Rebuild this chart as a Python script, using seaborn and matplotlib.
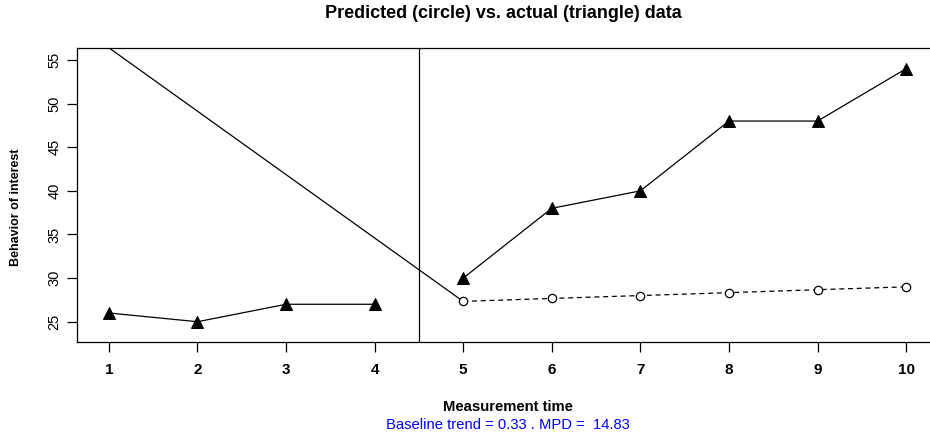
import matplotlib
matplotlib.use("Agg")
import matplotlib.pyplot as plt
import seaborn as sns
import pandas as pd

# ---- data ----
time_a = [1, 2, 3, 4]
actual_a = [26, 25, 27, 27]
time_b = [5, 6, 7, 8, 9, 10]
actual_b = [30, 38, 40, 48, 48, 54]
predicted_b = [27.33, 27.67, 28.0, 28.33, 28.67, 29.0]
trend_x = [1, 5]
trend_y = [56.4, 27.33]
phase_change = 4.5
x_ticks = [1, 2, 3, 4, 5, 6, 7, 8, 9, 10]
y_ticks = [25, 30, 35, 40, 45, 50, 55]
title = "Predicted (circle) vs. actual (triangle) data"
xlabel = "Measurement time"
ylabel = "Behavior of interest"
note = "Baseline trend = 0.33 . MPD =  14.83"

sns.set_style("ticks")
plt.rcParams['font.family'] = ['Liberation Sans', 'DejaVu Sans']
plt.rcParams['text.color'] = 'black'
plt.rcParams['xtick.color'] = 'black'
plt.rcParams['ytick.color'] = 'black'
plt.rcParams['axes.labelcolor'] = 'black'

fig = plt.figure(figsize=(9.3, 4.36), dpi=100)
W, H = 930, 436
left, right, top, bottom = 77, 938, 48.3, 341.7
ax = fig.add_axes([left / W, 1 - bottom / H, (right - left) / W, (bottom - top) / H])

dfa = pd.DataFrame({"t": time_a, "y": actual_a})
dfb = pd.DataFrame({"t": time_b, "y": actual_b})
dfp = pd.DataFrame({"t": time_b, "y": predicted_b})
dft = pd.DataFrame({"t": trend_x, "y": trend_y})

sns.lineplot(data=dft, x="t", y="y", ax=ax, color="black", lw=0.9)
sns.lineplot(data=dfp, x="t", y="y", ax=ax, color="black", lw=0.9,
             linestyle=(0, (4, 3)), marker="o", markersize=6,
             markerfacecolor="white", markeredgecolor="black", markeredgewidth=0.9)
for d in (dfa, dfb):
    sns.lineplot(data=d, x="t", y="y", ax=ax, color="black", lw=0.9,
                 marker="^", markersize=9, markerfacecolor="black",
                 markeredgecolor="black")
ax.axvline(phase_change, color="black", lw=0.9)

ax.set_xlim(0.64, 10.36)
ax.set_ylim(22.71, 56.34)
ax.set_xticks(x_ticks)
ax.set_yticks(y_ticks)
ax.set_xticklabels([str(v) for v in x_ticks], fontweight="bold", fontsize=11)
ax.set_yticklabels([str(v) for v in y_ticks], fontsize=10.5, rotation=90, va="center")
ax.tick_params(axis="both", direction="out", length=7, width=0.9, color="black")
ax.tick_params(axis="x", pad=8)
ax.tick_params(axis="y", pad=4)
for s in ax.spines.values():
    s.set_linewidth(0.9)
    s.set_color("black")
ax.spines["right"].set_visible(False)
ax.set_xlabel("")
ax.set_ylabel("")

fig.text(503 / W, 1 - 14 / H, title, ha="center", va="center",
         fontweight="bold", fontsize=13)
fig.text(508 / W, 1 - 407 / H, xlabel, ha="center", va="center",
         fontweight="bold", fontsize=10.7)
fig.text(508 / W, 1 - 425 / H, note, ha="center", va="center",
         color="#0000FF", fontsize=10.6)
fig.text(16 / W, 1 - 207 / H, ylabel, ha="center", va="center",
         fontweight="bold", fontsize=9, rotation=90)

fig.savefig("out.png", dpi=100)
